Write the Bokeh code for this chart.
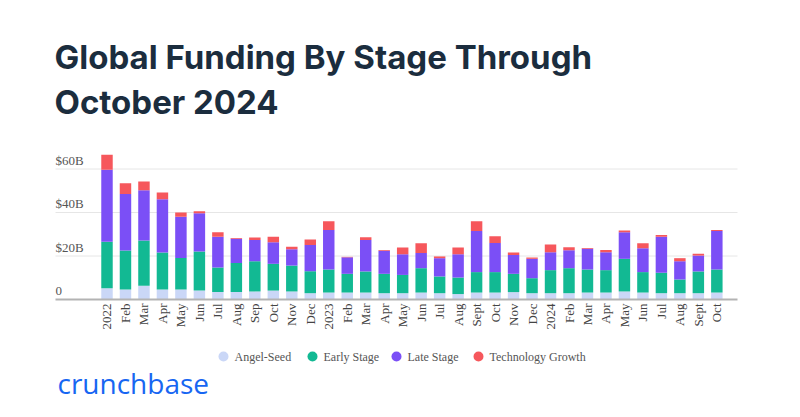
import math
from bokeh.plotting import figure
from bokeh.models import Range1d, ColumnDataSource
from bokeh.core.properties import value
from bokeh.embed import file_html
from bokeh.resources import INLINE

# ---- data ($B) ----
months = ["2022", "Feb", "Mar", "Apr", "May", "Jun", "Jul", "Aug", "Sep", "Oct", "Nov", "Dec",
          "2023", "Feb", "Mar", "Apr", "May", "Jun", "Jul", "Aug", "Sept", "Oct", "Nov", "Dec",
          "2024", "Feb", "Mar", "Apr", "May", "Jun", "Jul", "Aug", "Sept", "Oct"]
angel_seed = [5.2, 4.6, 6.3, 4.6, 4.6, 4.1, 3.4, 3.4, 3.7, 4.1, 3.7, 2.9,
              3.2, 3.2, 3.2, 2.9, 2.9, 3.2, 2.9, 2.5, 3.2, 3.2, 3.4, 2.9,
              2.9, 2.9, 3.2, 3.2, 3.7, 3.2, 2.9, 2.9, 2.9, 3.2]
early_stage = [21.4, 17.9, 20.8, 17.0, 14.5, 18.0, 11.3, 13.4, 13.9, 12.3, 11.9, 10.1,
               10.6, 8.6, 9.7, 8.9, 8.4, 11.2, 7.7, 7.6, 9.4, 9.4, 8.4, 6.9,
               10.6, 11.5, 10.6, 10.3, 15.0, 9.4, 9.4, 6.3, 10.0, 10.6]
late_stage = [33.0, 26.0, 23.1, 24.5, 18.9, 17.6, 14.2, 11.1, 9.8, 9.9, 7.5, 12.1,
              18.2, 7.6, 14.4, 10.6, 9.5, 7.0, 8.4, 10.7, 18.9, 13.4, 8.7, 8.9,
              8.2, 8.3, 9.5, 8.2, 12.2, 11.0, 16.5, 8.4, 7.3, 17.7]
tech_growth = [6.9, 4.9, 4.0, 3.1, 2.0, 0.9, 2.0, 0.4, 1.1, 2.5, 1.2, 2.5,
               4.0, 0.2, 1.3, 0.4, 3.1, 4.5, 0.8, 3.1, 4.5, 3.1, 1.1, 0.6,
               3.6, 1.3, 0.4, 1.1, 0.8, 2.3, 0.8, 1.4, 0.8, 0.5]
series = ["Angel-Seed", "Early Stage", "Late Stage", "Technology Growth"]
y_ticks = [0, 20, 40, 60]
y_tick_labels = ["0", "$20B", "$40B", "$60B"]
title_lines = ["Global Funding By Stage Through", "October 2024"]
brand = "crunchbase"

colors = ["#cad7f7", "#12b993", "#7b4ff6", "#f6575c"]

W, H = 800, 417
# layout (page pixels)
px_first, px_step = 106.5, 18.48      # centre of first bar, bar pitch
py_zero, py_unit = 299.0, 2.175       # baseline, pixels per $1B
area_left, area_right = 55.0, 737.0


def dx(px):
    return (px - px_first) / px_step


def dy(py):
    return (py_zero - py) / py_unit


ax_left, ax_right = dx(area_left), dx(area_right)

idx = list(range(len(months)))
src = ColumnDataSource(dict(x=idx, a=angel_seed, e=early_stage, l=late_stage, t=tech_growth))

p = figure(width=W, height=H, output_backend="svg", toolbar_location=None,
           x_range=Range1d(dx(0), dx(W)), y_range=Range1d(dy(H), dy(0)),
           min_border=0)
p.outline_line_color = None
p.background_fill_color = "white"
p.border_fill_color = "white"
p.xaxis.visible = False
p.yaxis.visible = False
p.xgrid.visible = False
p.ygrid.visible = False

# gridlines
grid_y = y_ticks[1:]
p.segment(x0=[ax_left] * len(grid_y), x1=[ax_right] * len(grid_y), y0=grid_y, y1=grid_y,
          line_color="#e6e6e6", line_width=1)

p.vbar_stack(["a", "e", "l", "t"], x="x", width=0.62, source=src, color=colors, line_color=None)

# baseline
p.segment(x0=[ax_left], x1=[ax_right], y0=[0], y1=[0], line_color="#b3b3b3", line_width=2)

# y tick labels above gridlines
p.text(x=[ax_left] * len(y_ticks), y=y_ticks, text=y_tick_labels,
       text_font=value("Liberation Serif"), text_font_size="13px", text_color="#555555",
       text_baseline="middle", text_align="left", y_offset=-9)

# x tick labels (vertical)
p.text(x=idx, y=[0] * len(idx), text=months, angle=math.pi / 2,
       text_font=value("Liberation Serif"), text_font_size="13px", text_color="#444444",
       text_baseline="middle", text_align="right", y_offset=4)

# legend (circle + label), positions in page pixels
leg_cx = [223, 312, 396, 478]
leg_y = 356
p.scatter(x=[dx(c) for c in leg_cx], y=[dy(leg_y)] * 4, marker="circle", size=10,
          fill_color=colors, line_color=None)
p.text(x=[dx(c + 11) for c in leg_cx], y=[dy(leg_y)] * 4, text=series,
       text_font=value("Liberation Serif"), text_font_size="12px", text_color="#555555",
       text_baseline="middle", text_align="left")

# title (anchor = vertical middle of the em box)
p.text(x=[dx(54)] * 2, y=[dy(56), dy(101)], text=title_lines,
       text_font=value("Inter"), text_font_style="bold", text_font_size="33px",
       text_color="#1b2d3e", text_baseline="middle", text_align="left")

# brand
p.text(x=[dx(57)], y=[dy(382)], text=[brand],
       text_font=value("Open Sans"), text_font_size="28px", text_color="#1766f2",
       text_baseline="middle", text_align="left")

open("out.html", "w").write(file_html(p, INLINE))
